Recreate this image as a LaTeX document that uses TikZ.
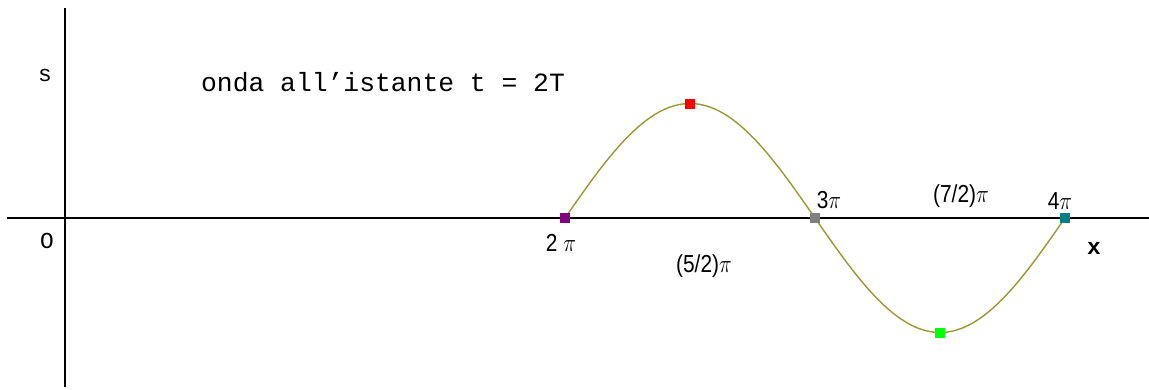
\documentclass[tikz,border=0pt]{standalone}
\usepackage{fontspec}
\setmainfont{Liberation Sans}
\newfontfamily\monofont{Liberation Mono}
\usetikzlibrary{positioning}
\definecolor{olive}{HTML}{999933}
\definecolor{purple}{HTML}{800080}
\definecolor{gray}{HTML}{808080}
\definecolor{green}{HTML}{00FF00}
\definecolor{teal}{HTML}{008080}

\begin{document}
\begin{tikzpicture}[x=0.02cm,y=-0.02cm,
  lab/.style={font=\fontsize{14}{16}\selectfont,xscale=0.85},
  mono/.style={font=\monofont\fontsize{13}{15}\selectfont},
  pt/.style={rectangle,inner sep=0pt,minimum size=0.2cm}]
\useasboundingbox[fill=white] (0,0) rectangle (1149,389);
\coordinate (ytop) at (65,8);
\coordinate (ybot) at (65,387);
\coordinate (xl) at (7,218);
\coordinate (xr) at (1149,218);
\draw[line width=1.1pt] (ytop)--(ybot);
\draw[line width=1.1pt] (xl)--(xr);
\draw[olive,line width=0.8pt] plot[domain=565:1065,samples=120,smooth] (\x,{218-114.5*sin((\x-565)*0.72)});
\node[pt,fill=purple] (p0) at (565,218) {};
\node[pt,fill=red] (p1) at (690,104) {};
\node[pt,fill=gray] (p2) at (815,218) {};
\node[pt,fill=green] (p3) at (940,333) {};
\node[pt,fill=teal] (p4) at (1065,218) {};
\node[mono] (s) at (45,75) {s};
\node[mono] (o) at (47,241) {O};
\node[mono,font=\monofont\bfseries\fontsize{13}{15}\selectfont] (x) at (1094,248) {x};
\node[mono,font=\monofont\fontsize{15}{17}\selectfont] (title) at (383,82) {onda all’istante t = 2T};
\node[lab] (l0) at (561,243) {2 $\pi$};
\node[lab] (l1) at (704,266) {(5/2)$\pi$};
\node[lab] (l2) at (829,200) {3$\pi$};
\node[lab] (l3) at (961,196) {(7/2)$\pi$};
\node[lab] (l4) at (1060,201) {4$\pi$};
\end{tikzpicture}
\end{document}
